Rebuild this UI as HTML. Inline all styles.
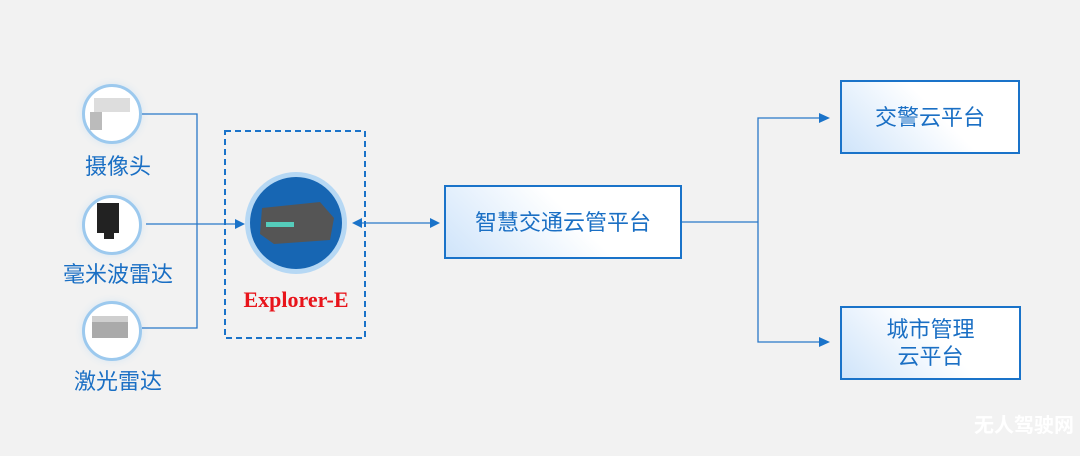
<!DOCTYPE html>
<html><head><meta charset="utf-8"><style>
body{margin:0;width:1080px;height:456px;background:#f2f2f2;position:relative;overflow:hidden;font-family:"Liberation Sans","Noto Sans CJK SC",sans-serif}
.c{position:absolute;border-radius:50%;background:#fff;border:3px solid #9cc9ee;box-shadow:0 0 8px #d6e6f4}
.lbl{position:absolute;color:#1a6fc4;font-size:22px;text-align:center;width:140px}
.box{position:absolute;border:2px solid #1a73c9;background:linear-gradient(45deg,#cfe4fa,#fff 55%);color:#1a6fc4;font-size:22px;display:flex;align-items:center;justify-content:center;text-align:center;line-height:27px}
</style></head><body>
<div class="c" style="left:82px;top:84px;width:54px;height:54px"></div>
<div class="c" style="left:82px;top:195px;width:54px;height:54px"></div>
<div class="c" style="left:82px;top:301px;width:54px;height:54px"></div>
<svg width="1080" height="456" style="position:absolute;left:0;top:0">
<rect x="94" y="98" width="36" height="14" fill="#ddd"/><rect x="90" y="112" width="12" height="18" fill="#bbb"/>
<rect x="97" y="203" width="22" height="30" fill="#222"/><rect x="104" y="233" width="10" height="6" fill="#222"/>
<rect x="92" y="316" width="36" height="22" fill="#aaa"/><rect x="92" y="316" width="36" height="6" fill="#cfcfcf"/>
<g stroke="#2a78c8" stroke-width="1.3" fill="none">
<polyline points="142,114 197,114 197,328 142,328"/>
<line x1="146" y1="224" x2="236" y2="224"/>
<line x1="362" y1="223" x2="432" y2="223"/>
<polyline points="680,222 758,222"/>
<polyline points="820,118 758,118 758,342 820,342"/>
</g>
<g fill="#1a73c9">
<polygon points="245,224 235,219 235,229"/>
<polygon points="352,223 362,218 362,228"/>
<polygon points="440,223 430,218 430,228"/>
<polygon points="830,118 819,113 819,123"/>
<polygon points="830,342 819,337 819,347"/>
</g>
<rect x="225" y="131" width="140" height="207" fill="none" stroke="#1a73c9" stroke-width="2" stroke-dasharray="6,4"/>
<circle cx="296" cy="223" r="51" fill="#b6d8f4"/>
<circle cx="296" cy="223" r="46" fill="#1766b3"/>
<polygon points="262,208 320,202 334,218 330,240 274,244 260,234" fill="#555"/>
<rect x="266" y="222" width="28" height="5" fill="#5cb"/>
<text x="296" y="307" text-anchor="middle" font-family="Liberation Serif" font-weight="bold" font-size="22" fill="#e8141b">Explorer-E</text>
<text x="1024" y="432" text-anchor="middle" font-size="20" font-weight="bold" fill="#fff" font-family="Noto Sans CJK SC">无人驾驶网</text>
</svg>
<div class="lbl" style="left:48px;top:149px">摄像头</div>
<div class="lbl" style="left:48px;top:257px">毫米波雷达</div>
<div class="lbl" style="left:48px;top:364px">激光雷达</div>
<div class="box" style="left:444px;top:185px;width:234px;height:70px">智慧交通云管平台</div>
<div class="box" style="left:840px;top:80px;width:176px;height:70px">交警云平台</div>
<div class="box" style="left:840px;top:306px;width:177px;height:70px">城市管理<br>云平台</div>
</body></html>
